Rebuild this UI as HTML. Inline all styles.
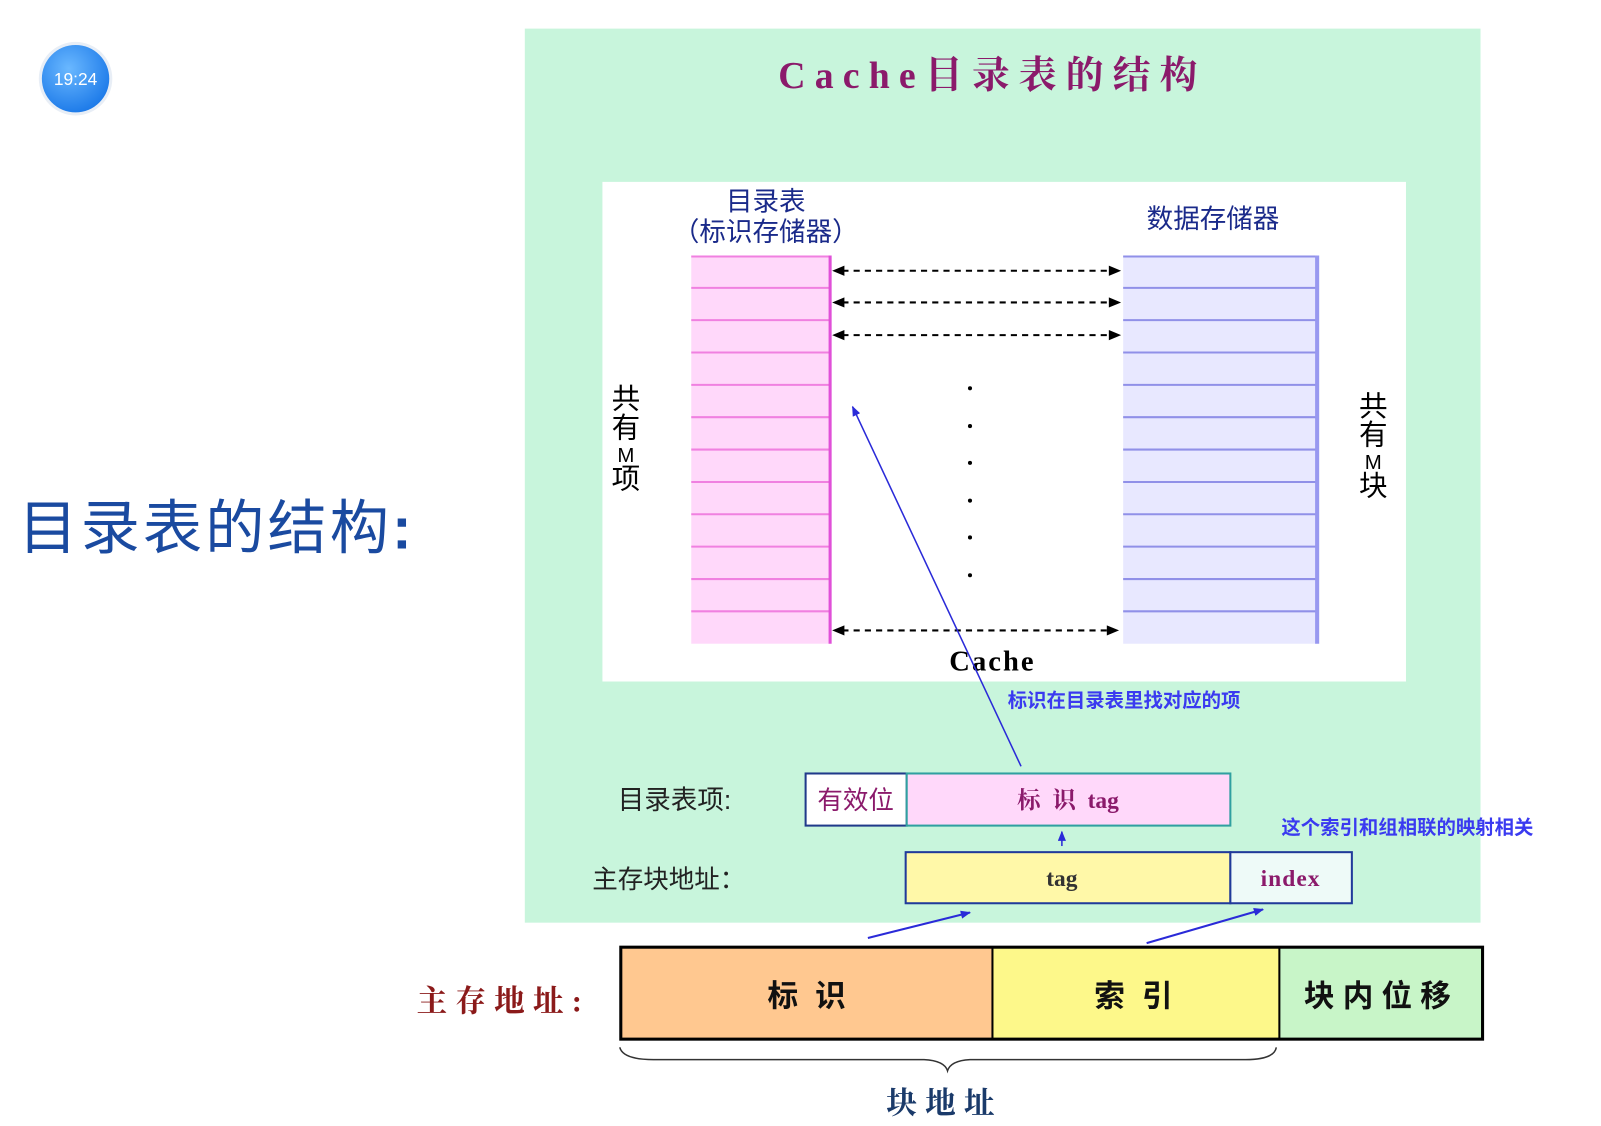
<!DOCTYPE html>
<html><head><meta charset="utf-8"><style>
html,body{margin:0;padding:0;background:#fff;}
svg{display:block;}
text{font-family:"Liberation Sans","Noto Sans CJK SC",sans-serif;}
.serif{font-family:"Liberation Serif","Noto Serif CJK SC",serif;}
</style></head><body>
<svg width="1601" height="1126" viewBox="0 0 1568 1102" preserveAspectRatio="none" xmlns="http://www.w3.org/2000/svg">
<defs>
<radialGradient id="cg" cx="0.4" cy="0.35" r="0.7"><stop offset="0" stop-color="#6ab8ff"/><stop offset="1" stop-color="#1a78e8"/></radialGradient>
<marker id="ablue" markerWidth="10" markerHeight="8" refX="9" refY="4" orient="auto" markerUnits="userSpaceOnUse"><path d="M0,0 L10,4 L0,8 Z" fill="#2a2ad8"/></marker>
</defs>
<circle cx="74" cy="77" r="36" fill="#e8eef6"/>
<circle cx="74" cy="77" r="33" fill="url(#cg)"/>
<text x="74" y="83" font-size="17" fill="#fff" text-anchor="middle">19:24</text>
<text x="18" y="537" font-size="58" fill="#1a4aa0" letter-spacing="3">目录表的结构<tspan font-weight="bold">:</tspan></text>
<rect x="514" y="28" width="936" height="875" fill="#c8f5dc"/>
<text x="972" y="86" font-size="37" font-weight="bold" fill="#8b1a6b" text-anchor="middle" class="serif" letter-spacing="9">Cache目录表的结构</text>
<rect x="590" y="178" width="787" height="489" fill="#fff"/>
<text x="750" y="206" font-size="26" fill="#1a2a8a" text-anchor="middle">目录表</text>
<text x="750" y="236" font-size="26" fill="#1a2a8a" text-anchor="middle">（标识存储器）</text>
<text x="1188" y="223" font-size="26" fill="#1a2a8a" text-anchor="middle">数据存储器</text>
<rect x="677" y="250" width="136" height="380" fill="#ffd8fa"/>
<g stroke="#f080e0" stroke-width="2">
<line x1="677" y1="281.7" x2="813" y2="281.7"/><line x1="677" y1="313.3" x2="813" y2="313.3"/><line x1="677" y1="345" x2="813" y2="345"/><line x1="677" y1="376.7" x2="813" y2="376.7"/><line x1="677" y1="408.3" x2="813" y2="408.3"/><line x1="677" y1="440" x2="813" y2="440"/><line x1="677" y1="471.7" x2="813" y2="471.7"/><line x1="677" y1="503.3" x2="813" y2="503.3"/><line x1="677" y1="535" x2="813" y2="535"/><line x1="677" y1="566.7" x2="813" y2="566.7"/><line x1="677" y1="598.3" x2="813" y2="598.3"/>
<line x1="677" y1="251" x2="813" y2="251"/>
</g>
<line x1="813" y1="250" x2="813" y2="630" stroke="#e050d8" stroke-width="3"/>
<rect x="1100" y="250" width="190" height="380" fill="#e8e8ff"/>
<g stroke="#9090e8" stroke-width="2">
<line x1="1100" y1="281.7" x2="1290" y2="281.7"/><line x1="1100" y1="313.3" x2="1290" y2="313.3"/><line x1="1100" y1="345" x2="1290" y2="345"/><line x1="1100" y1="376.7" x2="1290" y2="376.7"/><line x1="1100" y1="408.3" x2="1290" y2="408.3"/><line x1="1100" y1="440" x2="1290" y2="440"/><line x1="1100" y1="471.7" x2="1290" y2="471.7"/><line x1="1100" y1="503.3" x2="1290" y2="503.3"/><line x1="1100" y1="535" x2="1290" y2="535"/><line x1="1100" y1="566.7" x2="1290" y2="566.7"/><line x1="1100" y1="598.3" x2="1290" y2="598.3"/>
<line x1="1100" y1="251" x2="1290" y2="251"/>
</g>
<line x1="1290" y1="250" x2="1290" y2="630" stroke="#9898f0" stroke-width="4"/>
<g stroke="#000" stroke-width="2" stroke-dasharray="6,5" fill="none">
<line x1="825" y1="265" x2="1088" y2="265"/><line x1="825" y1="296" x2="1088" y2="296"/><line x1="825" y1="328" x2="1088" y2="328"/><line x1="825" y1="617" x2="1088" y2="617"/>
</g>
<g fill="#000">
<path d="M815,265 l12,-5 v10z"/><path d="M815,296 l12,-5 v10z"/><path d="M815,328 l12,-5 v10z"/><path d="M815,617 l12,-5 v10z"/>
<path d="M1098,265 l-12,-5 v10z"/><path d="M1098,296 l-12,-5 v10z"/><path d="M1098,328 l-12,-5 v10z"/><path d="M1096,617 l-12,-5 v10z"/>
<circle cx="950" cy="380" r="2"/><circle cx="950" cy="417" r="2"/><circle cx="950" cy="453" r="2"/><circle cx="950" cy="490" r="2"/><circle cx="950" cy="526" r="2"/><circle cx="950" cy="563" r="2"/>
</g>
<text x="972" y="656" font-size="28" font-weight="bold" fill="#000" text-anchor="middle" class="serif" letter-spacing="2">Cache</text>
<g font-size="28" fill="#000" text-anchor="middle" class="serif">
<text x="613" y="400">共</text><text x="613" y="428">有</text><text x="613" y="452" font-size="20">M</text><text x="613" y="478">项</text>
<text x="1345" y="407">共</text><text x="1345" y="435">有</text><text x="1345" y="459" font-size="20">M</text><text x="1345" y="485">块</text>
</g>
<line x1="1000" y1="750" x2="835" y2="398" stroke="#2a2ad8" stroke-width="1.5" marker-end="url(#ablue)"/>
<text x="987" y="692" font-size="19" font-weight="bold" fill="#3a3af0">标识在目录表里找对应的项</text>
<text x="605" y="792" font-size="26" fill="#222">目录表项:</text>
<rect x="789" y="757" width="99" height="51" fill="#fff" stroke="#203a8a" stroke-width="2"/>
<rect x="888" y="757" width="317" height="51" fill="#ffd8fa" stroke="#30a0a0" stroke-width="2"/>
<text x="838" y="792" font-size="25" fill="#8b1a6b" text-anchor="middle">有效位</text>
<text x="1046" y="791" font-size="23" fill="#8b1a6b" text-anchor="middle" class="serif" font-weight="bold" xml:space="preserve">标  识  tag</text>
<line x1="1040" y1="828" x2="1040" y2="814" stroke="#2a2ad8" stroke-width="1.5" marker-end="url(#ablue)"/>
<text x="1255" y="816" font-size="19" font-weight="bold" fill="#3a3af0">这个索引和组相联的映射相关</text>
<text x="580" y="869" font-size="25" fill="#222">主存块地址：</text>
<rect x="887" y="834" width="318" height="50" fill="#fff8a8" stroke="#203a9a" stroke-width="2"/>
<rect x="1205" y="834" width="119" height="50" fill="#eefaf8" stroke="#203a9a" stroke-width="2"/>
<text x="1040" y="867" font-size="23" fill="#333" text-anchor="middle" class="serif" font-weight="bold">tag</text>
<text x="1264" y="867" font-size="23" fill="#8b1a6b" text-anchor="middle" class="serif" font-weight="bold" letter-spacing="1">index</text>
<line x1="850" y1="918" x2="950" y2="893" stroke="#2a2ad8" stroke-width="2" marker-end="url(#ablue)"/>
<line x1="1123" y1="923" x2="1237" y2="890" stroke="#2a2ad8" stroke-width="2" marker-end="url(#ablue)"/>
<text x="408" y="990" font-size="30" font-weight="bold" fill="#8b1a1a" class="serif" letter-spacing="8">主存地址:</text>
<rect x="608" y="927" width="364" height="90" fill="#ffc890"/>
<rect x="972" y="927" width="281" height="90" fill="#fdf88a"/>
<rect x="1253" y="927" width="199" height="90" fill="#c8f5c8"/>
<rect x="608" y="927" width="844" height="90" fill="none" stroke="#000" stroke-width="3"/>
<line x1="972" y1="927" x2="972" y2="1017" stroke="#000" stroke-width="2"/>
<line x1="1253" y1="927" x2="1253" y2="1017" stroke="#000" stroke-width="2"/>
<g font-size="30" font-weight="bold" fill="#111" text-anchor="middle" class="serif">
<text x="790" y="985" xml:space="preserve">标  识</text>
<text x="1110" y="985" xml:space="preserve">索  引</text>
<text x="1353" y="985" letter-spacing="8">块内位移</text>
</g>
<path d="M607,1025 Q610,1037 640,1037 L905,1037 Q925,1038 928,1048 Q931,1038 950,1037 L1220,1037 Q1248,1037 1250,1025" fill="none" stroke="#333" stroke-width="1.5"/>
<text x="925" y="1090" font-size="30" font-weight="bold" fill="#1a3a6a" text-anchor="middle" class="serif" letter-spacing="8">块地址</text>
</svg>
</body></html>
